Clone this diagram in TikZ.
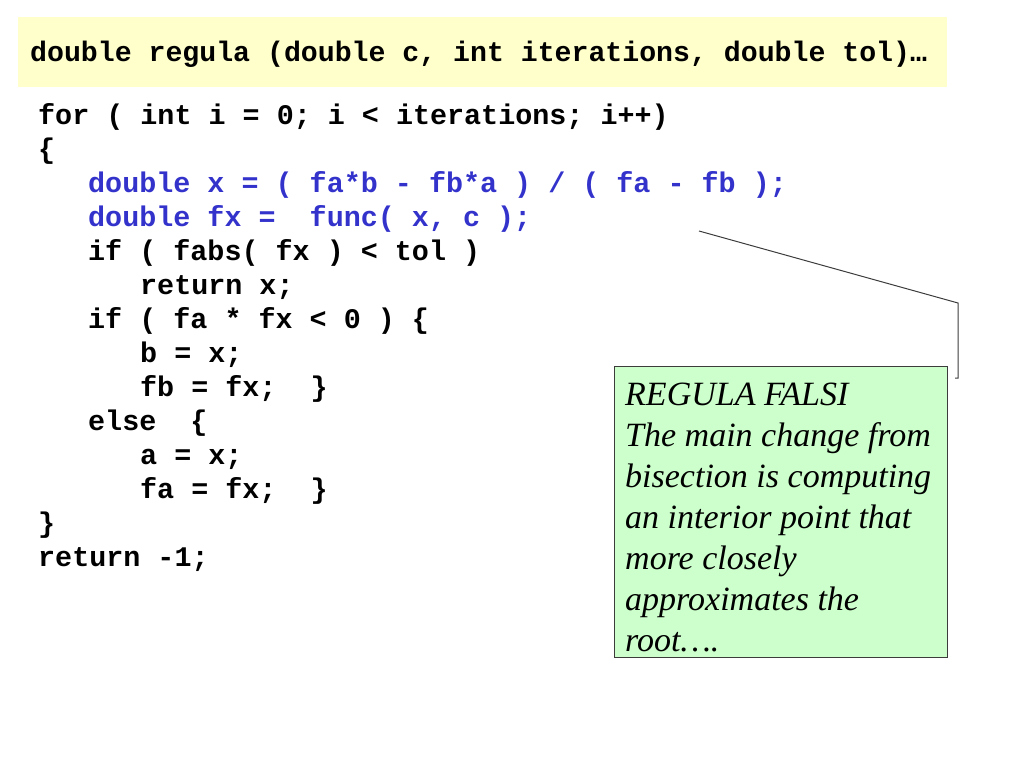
\documentclass[tikz,border=0pt]{standalone}
\usepackage{fontspec}
\setmainfont{Liberation Serif}
\setmonofont{Liberation Mono}
\usepackage{tikz}
\usetikzlibrary{positioning}

\definecolor{codeblue}{RGB}{51,51,204}
\definecolor{headyellow}{RGB}{255,255,204}
\definecolor{notegreen}{RGB}{204,255,204}
\definecolor{linegray}{RGB}{60,60,60}

\begin{document}
\begin{tikzpicture}[x=1pt,y=-1pt,
  code/.style={anchor=base west,inner sep=0pt,font=\fontsize{28.4}{34}\selectfont\ttfamily\bfseries},
  bluecode/.style={code,text=codeblue},
  headband/.style={anchor=north west,fill=headyellow,minimum width=929pt,minimum height=70pt,inner sep=0pt},
  notebox/.style={anchor=north west,draw=linegray,fill=notegreen,line width=1pt,minimum width=333pt,minimum height=291pt,inner sep=0pt},
  notetext/.style={anchor=north west,inner sep=0pt,align=left,font=\fontsize{34}{41}\selectfont\itshape},
  pointer/.style={draw=linegray,line width=1pt}]

  \useasboundingbox (0,0) rectangle (1024,768);

  % header
  \node[headband] (head) at (18,17) {};
  \node[code,font=\fontsize{28.2}{34}\selectfont\ttfamily\bfseries] (signature) at (30,62) {double regula (double c, int iterations, double tol)…};

  % loop body
  \node[code] (l1) at (38,124) {for ( int i = 0; i < iterations; i++)};
  \node[code] (l2) at (38,158) {\{};
  \node[bluecode] (l3) at (88,192) {double x = ( fa*b - fb*a ) / ( fa - fb );};
  \node[bluecode] (l4) at (88,226) {double fx =~~func( x, c );};
  \node[code] (l5) at (88,260) {if ( fabs( fx ) < tol )};
  \node[code] (l6) at (140,294) {return x;};
  \node[code] (l7) at (88,328) {if ( fa * fx < 0 ) \{};
  \node[code] (l8) at (140,362) {b = x;};
  \node[code] (l9) at (140,396) {fb = fx;~~\}};
  \node[code] (l10) at (88,430) {else~~\{};
  \node[code] (l11) at (140,464) {a = x;};
  \node[code] (l12) at (140,498) {fa = fx;~~\}};
  \node[code] (l13) at (38,532) {\}};
  \node[code] (l14) at (38,566) {return -1;};

  % callout
  \node[notebox] (note) at (614,366) {};
  \node[notetext, below right=17pt and 11pt of note.north west] (notetxt)
    {REGULA FALSI\\The main change from\\bisection is computing\\an interior point that\\more closely\\approximates the\\root….};

  \coordinate (tip) at (699,231);
  \coordinate (bend) at (958,303);
  \coordinate (hook) at (958,378);
  \coordinate (hookend) at (955,378);
  \draw[pointer] (tip) -- (bend) -- (hook) -- (hookend);

\end{tikzpicture}
\end{document}
